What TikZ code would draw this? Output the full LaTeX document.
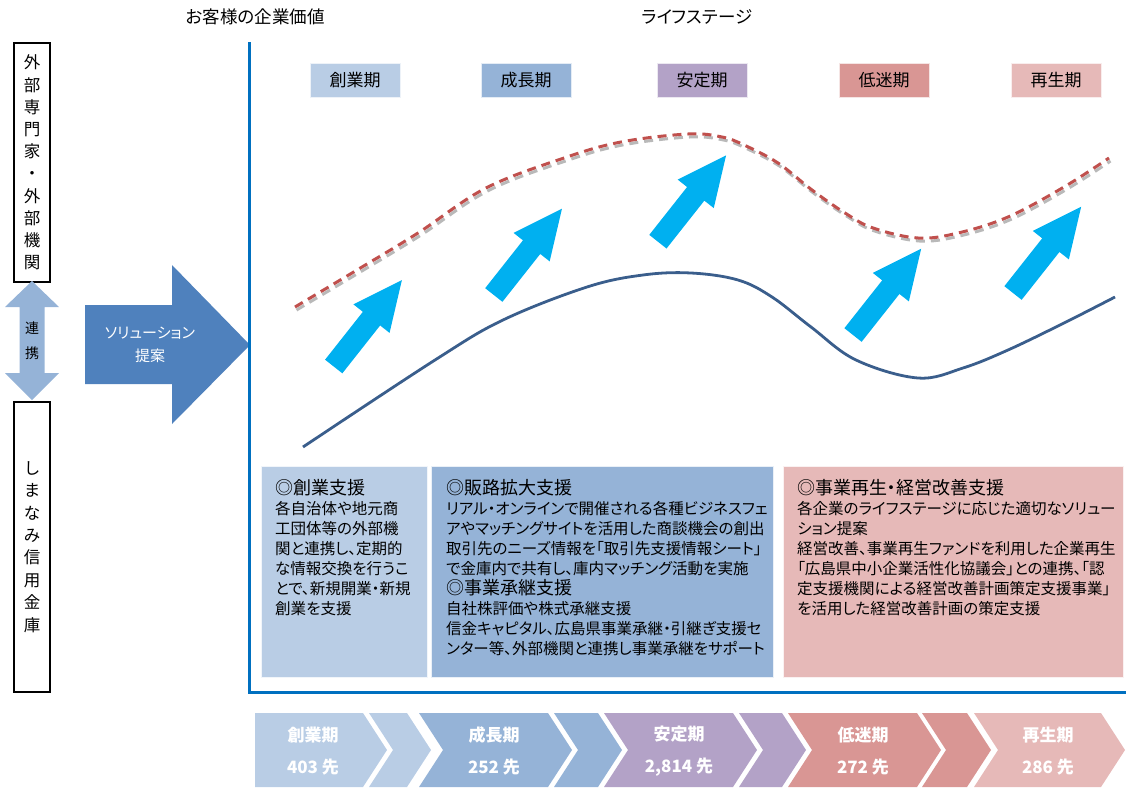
\documentclass[tikz,border=0pt]{standalone}
\usepackage{fontspec}
\setmainfont{Noto Sans CJK JP}
\newfontfamily\propjp{Noto Sans CJK JP}[RawFeature={+palt}]
\usetikzlibrary{positioning}
\definecolor{sogyocol}{HTML}{B9CDE5}
\definecolor{seichocol}{HTML}{95B3D7}
\definecolor{anteicol}{HTML}{B3A2C7}
\definecolor{teimeicol}{HTML}{D99694}
\definecolor{saiseicol}{HTML}{E6B9B8}
\definecolor{liftcol}{HTML}{00B0F0}
\definecolor{axiscol}{HTML}{0070C0}
\definecolor{teiancol}{HTML}{4F81BD}
\definecolor{valuecol}{HTML}{3A5E8C}
\definecolor{dashcol}{HTML}{C0504D}
\newcommand{\fsize}[2]{\fontsize{#1}{#2}\selectfont}

\begin{document}
\begin{tikzpicture}[x=1pt, y=-1pt, inner sep=0pt,
  stage label/.style={fill=#1, draw=white!75!#1, minimum width=90pt, minimum height=34pt, font=\fsize{17}{17}},
  side box/.style={draw=black, line width=1.2pt, minimum width=36pt},
  support box/.style={fill=#1, draw=white!80!#1, minimum height=211pt, anchor=north west},
  support text/.style={anchor=north west, align=left, font=\propjp\fsize{15.5}{20}},
  chevron text/.style={text=white, align=center, font=\bfseries\fsize{17}{32}},
  liftarrow/.pic={\fill[liftcol] (0,-11) -- (61,-11) -- (61,-23) -- (110,0) -- (61,23) -- (61,11) -- (0,11) -- cycle;}]
\useasboundingbox (0,0) rectangle (1126,787);
% titles
\node[font=\propjp\fsize{17.5}{17.5}] (kachi) at (255.5,17) {お客様の企業価値};
\node[font=\propjp\fsize{17.5}{17.5}] (lifestage) at (697,17) {ライフステージ};
% left column
\node[side box, minimum height=239pt] (gaibubox) at (32,162.5) {};
\node[side box, minimum height=290pt] (shinkinbox) at (32,547) {};
\node[align=center, font=\fsize{16.5}{22.2}] (gaibu) at (gaibubox) {外\\部\\専\\門\\家\\・\\外\\部\\機\\関};
\node[align=center, font=\fsize{16.5}{22.4}] (shinkin) at (shinkinbox) {し\\ま\\な\\み\\信\\用\\金\\庫};
\fill[seichocol] (32,281) -- (59,307) -- (44.5,307) -- (44.5,373) -- (59,373) -- (32,400) -- (5,373) -- (19.5,373) -- (19.5,307) -- (5,307) -- cycle;
\node[align=center, font=\fsize{14}{25}] (renkei) at (32,340.5) {連\\携};
\fill[teiancol] (85,305) -- (172,305) -- (172,265) -- (250,345) -- (172,424) -- (172,384) -- (85,384) -- cycle;
\node[text=white, align=center, font=\propjp\fsize{15}{23}] (teian) at (150,344.5) {ソリューション\\提案};
% axis
\draw[axiscol, line width=3pt] (249,42) -- (249,692) -- (1126,692);
% stage labels
\node[stage label=sogyocol] (st1) at (355,80) {創業期};
\node[stage label=seichocol] (st2) at (526,80) {成長期};
\node[stage label=anteicol] (st3) at (702,80) {安定期};
\node[stage label=teimeicol] (st4) at (884,80) {低迷期};
\node[stage label=saiseicol] (st5) at (1056,80) {再生期};
% curves
\draw[gray!55, line width=3pt, dash pattern=on 9pt off 6pt, shift={(1.5,3)}] plot[smooth, tension=0.6] coordinates {(295,307) (357,270) (418,233) (486,188) (564,158) (621,142) (688,134) (722,137) (744,145) (778,163) (812,190) (845,213) (873,228) (918,238) (958,233) (1008,217) (1064,187) (1109,158)};
\draw[dashcol, line width=3pt, dash pattern=on 9pt off 6pt] plot[smooth, tension=0.6] coordinates {(295,307) (357,270) (418,233) (486,188) (564,158) (621,142) (688,134) (722,137) (744,145) (778,163) (812,190) (845,213) (873,228) (918,238) (958,233) (1008,217) (1064,187) (1109,158)};
\draw[valuecol, line width=2.8pt] plot[smooth, tension=0.6] coordinates {(303,447) (435,360) (503,320) (587,287) (643,275) (691,273) (738,280) (772,297) (811,327) (856,360) (918,378) (963,368) (1008,350) (1064,323) (1115,297)};
% lift arrows
\pic[rotate=51.7] at (333.7,366.5) {liftarrow};
\pic[rotate=51.7] at (493.8,295) {liftarrow};
\pic[rotate=51.7] at (657.9,241.7) {liftarrow};
\pic[rotate=51.7] at (853,335) {liftarrow};
\pic[rotate=51.7] at (1013,293) {liftarrow};
% support boxes
\node[support box=sogyocol, minimum width=166pt] (sogyo) at (261,466) {};
\node[support box=seichocol, minimum width=342pt] (hanro) at (431,466) {};
\node[support box=saiseicol, minimum width=340pt] (saisei) at (783,466) {};
\node[support text] (sogyotext) at (275,479) {{\fsize{18}{20}◎創業支援}\\各自治体や地元商\\工団体等の外部機\\関と連携し、定期的\\な情報交換を行うこ\\とで、新規開業・新規\\創業を支援};
\node[support text] (hanrotext) at (446,479) {{\fsize{18}{20}◎販路拡大支援}\\リアル・オンラインで開催される各種ビジネスフェ\\アやマッチングサイトを活用した商談機会の創出\\取引先のニーズ情報を「取引先支援情報シート」\\で金庫内で共有し、庫内マッチング活動を実施\\{\fsize{18}{20}◎事業承継支援}\\自社株評価や株式承継支援\\信金キャピタル、広島県事業承継・引継ぎ支援セ\\ンター等、外部機関と連携し事業承継をサポート};
\node[support text] (saiseitext) at (797,479) {{\fsize{18}{20}◎事業再生・経営改善支援}\\各企業のライフステージに応じた適切なソリュー\\ション提案\\経営改善、事業再生ファンドを利用した企業再生\\「広島県中小企業活性化協議会」との連携、「認\\定支援機関による経営改善計画策定支援事業」\\を活用した経営改善計画の策定支援};
% chevrons
\fill[sogyocol] (255,713) -- (363,713) -- (387,750) -- (363,787) -- (255,787) -- cycle;
\fill[sogyocol] (369,713) -- (407,713) -- (431,750) -- (407,787) -- (369,787) -- (393,750) -- cycle;
\fill[seichocol] (419,713) -- (548,713) -- (572,750) -- (548,787) -- (419,787) -- (443,750) -- cycle;
\fill[seichocol] (554,713) -- (598,713) -- (622,750) -- (598,787) -- (554,787) -- (578,750) -- cycle;
\fill[anteicol] (604,713) -- (733,713) -- (757,750) -- (733,787) -- (604,787) -- (628,750) -- cycle;
\fill[anteicol] (739,713) -- (782,713) -- (806,750) -- (782,787) -- (739,787) -- (763,750) -- cycle;
\fill[teimeicol] (788,713) -- (917,713) -- (941,750) -- (917,787) -- (788,787) -- (812,750) -- cycle;
\fill[teimeicol] (922,713) -- (967,713) -- (991,750) -- (967,787) -- (922,787) -- (946,750) -- cycle;
\fill[saiseicol] (974,713) -- (1101,713) -- (1125,750) -- (1101,787) -- (974,787) -- (998,750) -- cycle;
\node[chevron text] (ch1) at (313,751) {創業期\\403 先};
\node[chevron text] (ch2) at (494,751) {成長期\\252 先};
\node[chevron text] (ch3) at (679,751) {安定期\\2,814 先};
\node[chevron text] (ch4) at (863,751) {低迷期\\272 先};
\node[chevron text] (ch5) at (1048,751) {再生期\\286 先};
\end{tikzpicture}
\end{document}
